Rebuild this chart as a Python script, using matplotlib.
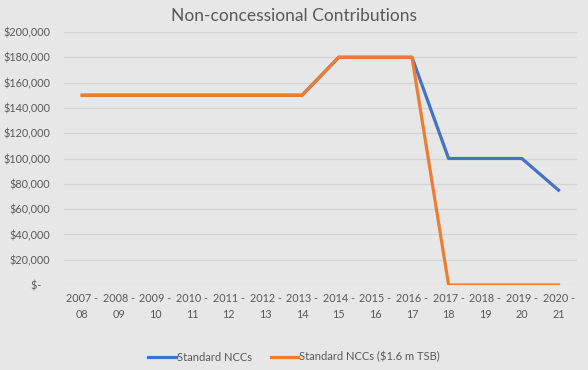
import matplotlib
matplotlib.use("Agg")
import matplotlib.pyplot as plt
from matplotlib.ticker import FuncFormatter

years = ["2007 -\n08", "2008 -\n09", "2009 -\n10", "2010 -\n11", "2011 -\n12", "2012 -\n13",
         "2013 -\n14", "2014 -\n15", "2015 -\n16", "2016 -\n17", "2017 -\n18", "2018 -\n19",
         "2019 -\n20", "2020 -\n21"]
standard = [150000, 150000, 150000, 150000, 150000, 150000, 150000,
            180000, 180000, 180000, 100000, 100000, 100000, 75000]
standard_tsb = [150000, 150000, 150000, 150000, 150000, 150000, 150000,
                180000, 180000, 180000, 0, 0, 0, 0]

plt.rcParams['font.family'] = ['Lato', 'DejaVu Sans']
bg = "#E7E7E7"
txt = "#595959"

fig = plt.figure(figsize=(5.88, 3.70), dpi=100, facecolor=bg)
ax = fig.add_axes([0.1088, 0.2297, 0.981 - 0.1088, 0.9135 - 0.2297], facecolor=bg)

x = list(range(len(years)))
ax.plot(x, standard, color="#4472C4", lw=2.3, label="Standard NCCs", solid_joinstyle="round")
ax.plot(x, standard_tsb, color="#ED7D31", lw=2.3, label="Standard NCCs ($1.6 m TSB)", solid_joinstyle="round")

ax.set_xlim(-0.5, len(years) - 0.5)
ax.set_ylim(0, 200000)
ax.set_yticks(range(0, 200001, 20000))
ax.yaxis.set_major_formatter(FuncFormatter(lambda v, p: "$-   " if v == 0 else f"${v:,.0f}"))
ax.set_xticks(x)
ax.set_xticklabels(years)
ax.grid(axis="y", color="#D4D4D4", lw=0.9)
ax.set_axisbelow(True)
for s in ax.spines.values():
    s.set_visible(False)
ax.tick_params(axis="both", length=0, colors=txt, labelsize=7.8)
ax.tick_params(axis="y", pad=10)
ax.tick_params(axis="x", pad=6)
for lbl in ax.get_xticklabels():
    lbl.set_linespacing(1.5)

fig.text(0.5, 0.957, "Non-concessional Contributions", ha="center", va="center",
         fontsize=12.5, color=txt)

leg = fig.legend(loc="center", bbox_to_anchor=(0.5, 0.035), ncol=2, frameon=False,
                 fontsize=8.0, labelcolor=txt, handlelength=2.5, handletextpad=0.1,
                 columnspacing=1.7)

fig.savefig("out.png", dpi=100, facecolor=bg)
